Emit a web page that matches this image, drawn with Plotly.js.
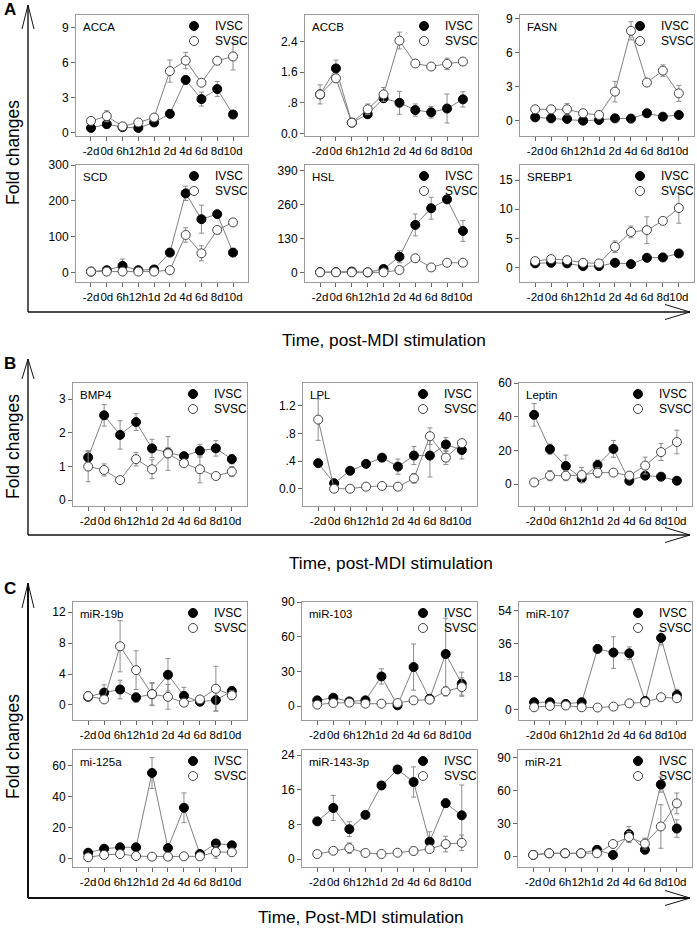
<!DOCTYPE html>
<html><head><meta charset="utf-8">
<script src="https://cdn.plot.ly/plotly-3.0.1.min.js"></script>
<style>html,body{margin:0;padding:0;background:#fff}#chart{width:697px;height:930px}</style>
</head><body><div id="chart"></div>
<script>
const timePoints = ["-2d","0d","6h","12h","1d","2d","4d","6d","8d","10d"];
const seriesNames = ["IVSC","SVSC"];
const geneNames = ["ACCA","ACCB","FASN","SCD","HSL","SREBP1","BMP4","LPL","Leptin","miR-19b","miR-103","miR-107","mi-125a","miR-143-3p","miR-21"];

// Panel A
const accaIVSC = [0.43,0.75,0.5,0.43,0.9,1.64,4.54,2.9,3.76,1.58];
const accaIVSCErr = [0.1,0.1,0.05,0.1,0.15,0.35,0.35,0.6,0.65,0.1];
const accaSVSC = [1.03,1.44,0.57,0.9,1.32,5.3,6.2,4.3,6.18,6.55];
const accaSVSCErr = [0.1,0.47,0.1,0.1,0.15,0.95,0.7,0.3,0.2,1.15];

const accbIVSC = [1.02,1.70,0.28,0.5,0.92,0.8,0.61,0.55,0.65,0.89];
const accbIVSCErr = [0.25,0.22,0.03,0.1,0.1,0.3,0.16,0.15,0.38,0.2];
const accbSVSC = [1.02,1.44,0.28,0.63,1.02,2.43,1.83,1.75,1.82,1.88];
const accbSVSCErr = [0.05,0.1,0.03,0.14,0.18,0.22,0.1,0.05,0.15,0.05];

const fasnIVSC = [0.29,0.2,0.15,0.0,0.06,0.2,0.18,0.65,0.35,0.5];
const fasnIVSCErr = [0.1,0.1,0.1,0.1,0.1,0.1,0.1,0.1,0.1,0.1];
const fasnSVSC = [1.0,1.0,1.0,0.65,0.5,2.55,7.9,3.35,4.4,2.4];
const fasnSVSCErr = [0.3,0.1,0.5,0.1,0.1,0.9,0.8,0.1,0.5,0.7];

const scdIVSC = [3,7,19,7,9,56,221,149,163,56];
const scdIVSCErr = [2,3,19,3,3,4,20,39,5,3];
const scdSVSC = [3,3,3,3,3,7,105,54,119,140];
const scdSVSCErr = [1,1,1,1,1,2,20,21,5,3];

const hslIVSC = [1,1,3,0,13,60,182,246,280,159];
const hslIVSCErr = [1,1,1,1,3,23,42,42,10,40];
const hslSVSC = [0,0,0,0,0,9,54,19,37,37];
const hslSVSCErr = [1,1,1,1,1,3,15,3,3,3];

const srebp1IVSC = [0.7,0.8,0.7,0.23,0.23,0.8,0.57,1.66,1.72,2.4];
const srebp1IVSCErr = [0.1,0.1,0.1,0.1,0.1,0.1,0.1,0.2,0.3,0.3];
const srebp1SVSC = [1.09,1.43,1.26,0.8,0.69,3.55,6.1,6.4,8.0,10.2];
const srebp1SVSCErr = [0.1,0.2,0.1,0.1,0.1,1.0,1.0,2.3,0.3,2.6];

// Panel B
const bmp4IVSC = [1.27,2.52,1.94,2.32,1.54,1.41,1.31,1.47,1.54,1.22];
const bmp4IVSCErr = [0.2,0.32,0.42,0.25,0.27,0.15,0.1,0.19,0.23,0.14];
const bmp4SVSC = [1.0,0.9,0.6,1.22,0.92,1.39,1.1,0.92,0.72,0.85];
const bmp4SVSCErr = [0.45,0.18,0.1,0.2,0.28,0.5,0.08,0.4,0.1,0.15];

const lplIVSC = [0.37,0.08,0.26,0.36,0.45,0.32,0.48,0.48,0.64,0.56];
const lplIVSCErr = [0.03,0.02,0.03,0.03,0.03,0.11,0.13,0.31,0.1,0.13];
const lplSVSC = [1.0,0.0,0.0,0.03,0.04,0.03,0.15,0.76,0.45,0.66];
const lplSVSCErr = [0.3,0.01,0.01,0.01,0.01,0.01,0.07,0.12,0.1,0.03];

const leptinIVSC = [41.1,20.7,10.7,3.4,11.3,20.9,2,5,4.4,2];
const leptinIVSCErr = [6.7,3,6.5,1,3,5,1,1.5,0.5,0.5];
const leptinSVSC = [1,5,5,5.4,6.8,6.8,5,11,19,25];
const leptinSVSCErr = [0.5,3,3,4.5,3,1,1,5,5,7];

// Panel C
const mir19bIVSC = [1.05,1.6,2.0,0.97,1.4,3.9,1.18,0.42,0.63,1.8];
const mir19bIVSCErr = [0.5,1.0,1.2,0.6,1.4,2.1,1.1,0.3,1.4,0.6];
const mir19bSVSC = [1.14,0.72,7.58,4.5,1.4,1.05,0.3,0.72,2.1,1.26];
const mir19bSVSCErr = [0.6,0.2,3.3,2.5,1.5,1.6,0.2,0.5,2.9,0.6];

const mir103IVSC = [4.9,7.2,4,4.9,25.6,0.6,33.7,6.3,45,19.3];
const mir103IVSCErr = [1,1,1,1,6.6,1,20,1,31,10];
const mir103SVSC = [1.2,2.6,2.9,2,2,2.6,4.9,5.5,12.7,16.4];
const mir103SVSCErr = [0.5,0.5,0.5,0.5,0.5,0.5,3,1,4,8];

const mir107IVSC = [4.2,4.2,3.3,4.2,33.3,31.3,30.9,4.9,39.3,8.2];
const mir107IVSCErr = [0.5,0.5,0.5,0.5,2,8.6,3.5,0.5,3.8,3];
const mir107SVSC = [1.45,2.2,2.4,1.45,1.3,1.8,3.6,4.2,6.9,6.4];
const mir107SVSCErr = [0.3,0.3,0.3,0.3,0.3,0.3,0.3,0.3,0.3,1];

const mir125aIVSC = [4,6.6,7.5,7.5,55.5,7,33,3.2,10,8.8];
const mir125aIVSCErr = [0.5,0.5,0.5,0.5,10,0.5,9.6,0.5,2,0.5];
const mir125aSVSC = [1.1,2.6,3.2,1.9,1.5,1.5,1.7,1.7,4.5,4.3];
const mir125aSVSCErr = [0.3,0.3,0.3,0.3,0.3,0.3,0.3,0.3,4,1];

const mir143IVSC = [8.7,11.8,6.9,10.2,17.0,20.7,17.8,4.0,12.9,10.1];
const mir143IVSCErr = [0.3,2.9,1.7,0.3,0.7,0.3,3.5,2.3,1,7];
const mir143SVSC = [1.15,1.9,2.5,1.4,1.15,1.45,1.85,2.3,3.45,3.75];
const mir143SVSCErr = [0.2,0.6,1.2,0.2,0.2,0.3,0.9,0.3,1.8,1.8];

const mir21IVSC = [1,2.5,2.5,2.5,5.7,1,20,5.7,65.6,25.2];
const mir21IVSCErr = [0.3,0.3,0.3,0.3,3,0.5,7,3,7,8];
const mir21SVSC = [1,2.5,2.5,2.5,2.5,11,17.4,11.4,27.1,48.3];
const mir21SVSCErr = [0.3,0.3,0.3,0.3,0.3,1,5,5,20,9.5];

// Y tick values and labels
const yTickVals = [[0,3,6,9],[0,0.8,1.6,2.4],[0,3,6,9],[0,100,200,300],[0,130,260,390],[0,5,10,15],
  [0,1,2,3],[0,0.4,0.8,1.2],[0,20,40,60],
  [0,4,8,12],[0,30,60,90],[0,18,36,54],[0,20,40,60],[0,8,16,24],[0,30,60,90]];
const yTickText = [["0","3","6","9"],["0.0",".8","1.6","2.4"],["0","3","6","9"],["0","100","200","300"],["0","130","260","390"],["0","5","10","15"],
  ["0","1","2","3"],["0.0",".4",".8","1.2"],["0","20","40","60"],
  ["0","4","8","12"],["0","30","60","90"],["0","18","36","54"],["0","20","40","60"],["0","8","16","24"],["0","30","60","90"]];
const panelLetters = ["A","B","C"];
const xTitles = ["Time, post-MDI stimulation","Time, post-MDI stimulation","Time, Post-MDI stimulation"];
const yTitle = "Fold changes";

const seriesData = [
  [accaIVSC,accaIVSCErr,accaSVSC,accaSVSCErr],
  [accbIVSC,accbIVSCErr,accbSVSC,accbSVSCErr],
  [fasnIVSC,fasnIVSCErr,fasnSVSC,fasnSVSCErr],
  [scdIVSC,scdIVSCErr,scdSVSC,scdSVSCErr],
  [hslIVSC,hslIVSCErr,hslSVSC,hslSVSCErr],
  [srebp1IVSC,srebp1IVSCErr,srebp1SVSC,srebp1SVSCErr],
  [bmp4IVSC,bmp4IVSCErr,bmp4SVSC,bmp4SVSCErr],
  [lplIVSC,lplIVSCErr,lplSVSC,lplSVSCErr],
  [leptinIVSC,leptinIVSCErr,leptinSVSC,leptinSVSCErr],
  [mir19bIVSC,mir19bIVSCErr,mir19bSVSC,mir19bSVSCErr],
  [mir103IVSC,mir103IVSCErr,mir103SVSC,mir103SVSCErr],
  [mir107IVSC,mir107IVSCErr,mir107SVSC,mir107SVSCErr],
  [mir125aIVSC,mir125aIVSCErr,mir125aSVSC,mir125aSVSCErr],
  [mir143IVSC,mir143IVSCErr,mir143SVSC,mir143SVSCErr],
  [mir21IVSC,mir21IVSCErr,mir21SVSC,mir21SVSCErr]
];

// ---- layout geometry (pixels) ----
const W = 697, H = 930;
const boxes = [[76,248,15,136],[305,478,15,136],[520,694,15,136],
  [76,248,165,282],[305,478,165,282],[520,694,165,282],
  [73,247,383,506],[303,477,383,506],[519,692,383,506],
  [73,247,602,720],[302,477,602,720],[519,692,602,720],
  [73,247,750,867],[302,477,750,867],[518,692,750,867]];
const yRanges = [[-0.26,10.1],[-0.07,3.1],[-1.35,9.29],[-26,300],[-37,412],[-2.5,17.6],
  [-0.17,3.48],[-0.25,1.53],[-13,60],
  [-1.94,13.3],[-12.1,90],[-5.5,58.9],[-5.2,70.3],[-1.85,25.2],[-10.1,97.3]];

const px = x => x / W;
const py = y => 1 - y / H;
const FONT = "Liberation Sans, Arial, sans-serif";
const xIdx = timePoints.map((_, i) => i);

const traces = [];
const layout = {
  width: W, height: H, margin: {l:0,r:0,t:0,b:0},
  paper_bgcolor: "#fff", plot_bgcolor: "#fff", showlegend: false,
  font: {family: FONT, color: "#000"},
  shapes: [], annotations: []
};

boxes.forEach((b, i) => {
  const n = i + 1;
  const xk = n === 1 ? "xaxis" : "xaxis" + n;
  const yk = n === 1 ? "yaxis" : "yaxis" + n;
  const xr = n === 1 ? "x" : "x" + n;
  const yr = n === 1 ? "y" : "y" + n;
  layout[xk] = {
    domain: [px(b[0]), px(b[1])], anchor: yr, range: [-0.95, 9.95],
    tickmode: "array", tickvals: xIdx, ticktext: timePoints, tickangle: 0,
    ticks: "outside", ticklen: 4, tickcolor: "#666", tickwidth: 1,
    showline: true, mirror: true, linecolor: "#9a9a9a", linewidth: 1,
    showgrid: false, zeroline: false, tickfont: {size: 11.5, color: "#000", family: FONT}
  };
  layout[yk] = {
    domain: [py(b[3]), py(b[2])], anchor: xr, range: yRanges[i],
    tickmode: "array", tickvals: yTickVals[i], ticktext: yTickText[i], tickangle: 0,
    ticks: "outside", ticklen: 4, tickcolor: "#666", tickwidth: 1,
    showline: true, mirror: true, linecolor: "#9a9a9a", linewidth: 1,
    showgrid: false, zeroline: false, tickfont: {size: 12, color: "#000", family: FONT}
  };
  const d = seriesData[i];
  [[d[0], d[1], "#000", "#000"], [d[2], d[3], "#fff", "#444"]].forEach((s, k) => {
    traces.push({
      type: "scatter", mode: "lines+markers", x: xIdx, y: s[0], xaxis: xr, yaxis: yr,
      name: seriesNames[k],
      line: {color: "#808080", width: 1},
      marker: {size: 9, color: s[2], line: {color: s[3], width: 1}},
      error_y: {type: "data", array: s[1], visible: true, color: "#8c8c8c", thickness: 1, width: 2.5},
      cliponaxis: false, hoverinfo: "skip"
    });
  });
  // gene name
  layout.annotations.push({xref: "paper", yref: "paper", x: px(b[0] + 5), y: py(b[2] + 12),
    xanchor: "left", yanchor: "middle", text: geneNames[i], showarrow: false,
    font: {size: 11.5, family: FONT, color: "#000"}});
  // legend
  const cx = b[1] - 54;
  [[b[2] + 11, "#000", "#000"], [b[2] + 26, "#fff", "#444"]].forEach((L, k) => {
    layout.shapes.push({type: "circle", xref: "paper", yref: "paper",
      xsizemode: "pixel", ysizemode: "pixel", xanchor: px(cx), yanchor: py(L[0]),
      x0: -4.5, x1: 4.5, y0: -4.5, y1: 4.5, fillcolor: L[1], line: {color: L[2], width: 1}});
    layout.annotations.push({xref: "paper", yref: "paper", x: px(b[1] - 35), y: py(L[0]),
      xanchor: "left", yanchor: "middle", text: seriesNames[k], showarrow: false,
      font: {size: 12, family: FONT, color: "#000"}});
  });
});

// Panel frames: arrows, letters, titles
const frames = [
  {letterY: 10, tipY: 5, headLen: 24, baseY: 312, titleX: 384, titleY: 340, yTitleY: 153, lw: 1.4},
  {letterY: 363, tipY: 359, headLen: 20, baseY: 535, titleX: 391, titleY: 563, yTitleY: 447, lw: 1.4},
  {letterY: 588, tipY: 583, headLen: 25, baseY: 898, titleX: 361, titleY: 917, yTitleY: 747, lw: 2}
];
const ax = 28, arrowEnd = 690;
frames.forEach((f, i) => {
  const col = "#111";
  const seg = (x0, y0, x1, y1, w) => layout.shapes.push({type: "line", xref: "paper", yref: "paper",
    x0: px(x0), y0: py(y0), x1: px(x1), y1: py(y1), line: {color: col, width: w}});
  seg(ax, f.tipY, ax, f.baseY, f.lw);
  seg(ax, f.baseY, arrowEnd, f.baseY, f.lw);
  seg(ax - 6, f.tipY + f.headLen, ax, f.tipY, 1);
  seg(ax + 6, f.tipY + f.headLen, ax, f.tipY, 1);
  seg(arrowEnd - 25, f.baseY - 7.5, arrowEnd, f.baseY, 1);
  seg(arrowEnd - 25, f.baseY + 7.5, arrowEnd, f.baseY, 1);
  layout.annotations.push({xref: "paper", yref: "paper", x: px(10), y: py(f.letterY),
    xanchor: "center", yanchor: "middle", text: "<b>" + panelLetters[i] + "</b>", showarrow: false,
    font: {size: 17, family: FONT, color: "#000"}});
  layout.annotations.push({xref: "paper", yref: "paper", x: px(13), y: py(f.yTitleY),
    xanchor: "center", yanchor: "middle", text: yTitle, textangle: -90, showarrow: false,
    font: {size: 17.5, family: FONT, color: "#000"}});
  layout.annotations.push({xref: "paper", yref: "paper", x: px(f.titleX), y: py(f.titleY),
    xanchor: "center", yanchor: "middle", text: xTitles[i], showarrow: false,
    font: {size: 17.2, family: FONT, color: "#000"}});
});

Plotly.newPlot("chart", traces, layout, {displayModeBar: false, staticPlot: true});
</script>
</body></html>
